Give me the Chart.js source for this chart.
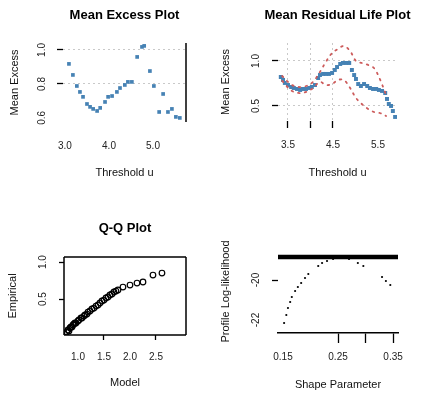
<!DOCTYPE html>
<html>
<head>
<meta charset="utf-8">
<script src="https://cdn.jsdelivr.net/npm/chart.js@4.4.1/dist/chart.umd.min.js"></script>
<style>
  html, body { margin: 0; padding: 0; background: #fff; overflow: hidden; width: 423px; height: 399px; }
  #wrap { position: relative; width: 423px; height: 399px; overflow: hidden; }
  canvas { position: absolute; }
</style>
</head>
<body>
<div id="wrap">
  <canvas id="c1" width="249" height="200" style="left:0px;top:0px"></canvas>
  <canvas id="c2" width="253" height="200" style="left:211px;top:0px"></canvas>
  <canvas id="c3" width="250" height="199" style="left:0px;top:200px"></canvas>
  <canvas id="c4" width="254" height="199" style="left:211px;top:200px"></canvas>
</div>
<script>
// -------------------------
//      DATA
// -------------------------

// mean excess plot
const ME_U   = [3.09, 3.18, 3.27, 3.34, 3.41, 3.50, 3.57, 3.64, 3.73, 3.80, 3.91, 3.98, 4.07, 4.18, 4.25,
                4.36, 4.43, 4.52, 4.64, 4.75, 4.80, 4.93, 5.02, 5.14, 5.23, 5.34, 5.43, 5.52, 5.61];
const ME_VAL = [0.918, 0.853, 0.788, 0.753, 0.724, 0.682, 0.665, 0.653, 0.641, 0.659, 0.694, 0.724, 0.729, 0.753, 0.776,
                0.794, 0.812, 0.812, 0.959, 1.018, 1.024, 0.876, 0.788, 0.635, 0.741, 0.635, 0.653, 0.606, 0.600];
const ME_X_TICKS = [3.0, 4.0, 5.0];
const ME_Y_TICKS = [0.6, 0.8, 1.0];

// mean residual life plot
const MRL_U   = [3.34, 3.39, 3.43, 3.50, 3.57, 3.63, 3.70, 3.77, 3.83, 3.90, 3.97, 4.03, 4.10, 4.17, 4.21,
                 4.28, 4.34, 4.41, 4.48, 4.54, 4.59, 4.66, 4.72, 4.79, 4.86, 4.92, 4.97, 5.01, 5.06, 5.12,
                 5.19, 5.26, 5.32, 5.39, 5.46, 5.52, 5.59, 5.66, 5.70, 5.74, 5.79, 5.83, 5.88];
const MRL_VAL = [0.822, 0.789, 0.756, 0.733, 0.711, 0.700, 0.689, 0.678, 0.689, 0.689, 0.700, 0.711, 0.733, 0.811, 0.844,
                 0.856, 0.856, 0.856, 0.867, 0.900, 0.933, 0.967, 0.978, 0.978, 0.978, 0.900, 0.844, 0.800, 0.744, 0.722,
                 0.744, 0.722, 0.700, 0.689, 0.689, 0.678, 0.667, 0.644, 0.578, 0.522, 0.500, 0.444, 0.378];
const MRL_CI_U  = [3.37, 3.59, 3.81, 4.03, 4.21, 4.34, 4.48, 4.61, 4.74, 4.88, 5.01, 5.14, 5.28, 5.41, 5.54, 5.68];
const MRL_UPPER = [0.833, 0.733, 0.711, 0.756, 0.878, 0.989, 1.089, 1.133, 1.167, 1.111, 1.000, 0.978, 0.956, 0.922, 0.800, 0.622];
const MRL_LOWER = [0.778, 0.667, 0.644, 0.689, 0.767, 0.733, 0.744, 0.789, 0.789, 0.700, 0.589, 0.522, 0.467, 0.433, 0.422, 0.389];
const MRL_X_TICKS = [3.5, 4.0, 4.5, 5.5];
const MRL_Y_TICKS = [0.5, 1.0];

// q-q plot
const QQ_MODEL = [0.788, 0.808, 0.827, 0.846, 0.865, 0.885, 0.904, 0.923, 0.942, 0.962, 1.000, 1.019, 1.058,
                  1.077, 1.115, 1.135, 1.173, 1.192, 1.231, 1.269, 1.308, 1.346, 1.385, 1.423, 1.462, 1.500,
                  1.538, 1.577, 1.615, 1.654, 1.692, 1.731, 1.769, 1.865, 2.000, 2.135, 2.250, 2.442, 2.615];
const QQ_EMP   = [0.054, 0.081, 0.068, 0.108, 0.122, 0.122, 0.149, 0.162, 0.176, 0.176, 0.203, 0.216, 0.243,
                  0.243, 0.270, 0.284, 0.297, 0.324, 0.338, 0.365, 0.378, 0.405, 0.419, 0.446, 0.473, 0.486,
                  0.514, 0.527, 0.554, 0.568, 0.595, 0.608, 0.622, 0.662, 0.689, 0.716, 0.730, 0.824, 0.851];
const QQ_X_TICKS = [1.0, 1.5, 2.0, 2.5];
const QQ_Y_TICKS = [0.5, 1.0];

// profile log-likelihood
const PROF_XI = [0.152, 0.156, 0.159, 0.163, 0.166, 0.172, 0.177, 0.183, 0.190, 0.196,
                 0.214, 0.221, 0.230, 0.241, 0.270, 0.286, 0.296, 0.330, 0.337, 0.345];
const PROF_LL = [-22.15, -21.75, -21.40, -21.10, -20.85, -20.55, -20.35, -20.15, -19.90, -19.70,
                 -19.30, -19.15, -19.05, -18.95, -18.95, -19.15, -19.30, -19.85, -20.05, -20.25];
const PROF_CUT = -18.85;
const PROF_X_TICKS = [0.15, 0.20, 0.25, 0.30, 0.35];
const PROF_Y_TICKS = [-22, -20];

// -------------------------

const FONT = "'Liberation Sans', Arial, Helvetica, sans-serif";
const NONE = 'rgba(0,0,0,0)';

const framePlugin = {
    id: 'frame',
    afterDatasetsDraw(chart, args, opts) {
        const sides = opts.sides || [];
        if (!sides.length) return;
        const { ctx, chartArea: a } = chart;
        ctx.save();
        ctx.strokeStyle = '#000';
        ctx.lineWidth = 1.5;
        ctx.beginPath();
        if (sides.includes('top'))    { ctx.moveTo(a.left, a.top);    ctx.lineTo(a.right, a.top); }
        if (sides.includes('bottom')) { ctx.moveTo(a.left, a.bottom); ctx.lineTo(a.right, a.bottom); }
        if (sides.includes('left'))   { ctx.moveTo(a.left, a.top);    ctx.lineTo(a.left, a.bottom); }
        if (sides.includes('right'))  { ctx.moveTo(a.right, a.top);   ctx.lineTo(a.right, a.bottom); }
        ctx.stroke();
        ctx.restore();
    }
};

function axis(s, horizontal) {
    return {
        type: 'linear',
        position: horizontal ? 'bottom' : 'left',
        min: s.min,
        max: s.max,
        afterBuildTicks: sc => { sc.ticks = s.ticks.map(v => ({ value: v })); },
        afterFit: sc => { if (horizontal) sc.height = s.size; else sc.width = s.size; },
        ticks: {
            autoSkip: false,
            minRotation: horizontal ? 0 : 90,
            maxRotation: horizontal ? 0 : 90,
            crossAlign: horizontal ? 'near' : 'center',
            padding: s.pad,
            color: '#222',
            font: { family: FONT, size: 10 },
            callback: v => s.label ? s.label(v) : v.toFixed(1)
        },
        grid: {
            drawOnChartArea: !!s.grid,
            color: c => (s.grid && c.tick && s.grid.includes(c.tick.value)) ? '#c9c9c9' : NONE,
            lineWidth: 1,
            drawTicks: true,
            tickLength: s.tl,
            tickColor: c => (c.tick && (s.marks || []).includes(c.tick.value)) ? '#000' : NONE,
            tickWidth: 1.3
        },
        border: { display: !!s.line, color: '#000', width: 1.5, dash: [2, 3] },
        title: {
            display: true,
            text: s.title,
            color: '#111',
            font: { family: FONT, size: 11 },
            padding: horizontal ? { top: 0, bottom: s.titleOff } : { top: s.titleOff, bottom: 0 }
        }
    };
}

function buildPanel(id, datasets, cfg) {
    const ctx = document.getElementById(id).getContext('2d');
    return new Chart(ctx, {
        type: 'scatter',
        data: { datasets },
        plugins: [framePlugin],
        options: {
            responsive: false,
            animation: false,
            events: [],
            layout: { padding: { top: cfg.padTop || 0, left: 0, right: 0, bottom: 0 } },
            scales: {
                x: axis(cfg.x, true),
                y: axis(cfg.y, false),
                // empty right axis, same width as the left one, keeps the title centred on the plot
                y2: {
                    position: 'right',
                    afterFit: sc => { sc.width = cfg.y.size; },
                    ticks: { display: false },
                    grid: { display: false },
                    border: { display: false }
                }
            },
            plugins: {
                legend: { display: false },
                tooltip: { enabled: false },
                title: {
                    display: !!cfg.title,
                    text: cfg.title,
                    color: '#000',
                    font: { family: FONT, size: 13, weight: 'bold' },
                    padding: cfg.titlePad || 0
                },
                frame: { sides: cfg.frame || [] }
            }
        }
    });
}

const pts = (xs, ys) => xs.map((x, i) => ({ x, y: ys[i] }));

// -------------------------
//     MEAN EXCESS
// -------------------------

buildPanel('c1', [{
    data: pts(ME_U, ME_VAL),
    yAxisID: 'y',
    pointStyle: 'rect',
    pointRadius: 2.6,
    pointBackgroundColor: '#4682b4',
    pointBorderWidth: 0
}], {
    title: 'Mean Excess Plot',
    titlePad: { top: 7.2, bottom: 20.2 },
    x: { min: 2.955, max: 5.75, ticks: ME_X_TICKS, tl: 6, pad: 12, size: 78, title: 'Threshold u', titleOff: 20.4 },
    y: { min: 0.576, max: 1.041, ticks: ME_Y_TICKS, marks: [0.8, 1.0], grid: [0.8, 1.0],
         tl: 6, pad: 8, size: 63, title: 'Mean Excess', titleOff: 8.4 },
    frame: ['right']
});

// -------------------------
//   MEAN RESIDUAL LIFE
// -------------------------

const bandStyle = {
    type: 'line',
    yAxisID: 'y',
    borderColor: '#cd5c5c',
    borderWidth: 1.8,
    borderDash: [1.6, 5.2],
    borderCapStyle: 'round',
    pointRadius: 0,
    tension: 0.35,
    fill: false
};

buildPanel('c2', [
    { ...bandStyle, data: pts(MRL_CI_U, MRL_UPPER) },
    { ...bandStyle, data: pts(MRL_CI_U, MRL_LOWER) },
    {
        data: pts(MRL_U, MRL_VAL),
        yAxisID: 'y',
        pointStyle: 'rect',
        pointRadius: 2.8,
        pointBackgroundColor: '#4682b4',
        pointBorderWidth: 0
    }
], {
    title: 'Mean Residual Life Plot',
    titlePad: { top: 7.2, bottom: 20.2 },
    x: { min: 3.278, max: 5.922, ticks: MRL_X_TICKS, marks: [3.5, 4.0, 4.5], grid: [3.5, 4.0, 4.5],
         label: v => (v === 4.0 ? '' : v.toFixed(1)),
         tl: 7, pad: 11, size: 79, title: 'Threshold u', titleOff: 20.4 },
    y: { min: 0.333, max: 1.2, ticks: MRL_Y_TICKS, marks: MRL_Y_TICKS, grid: MRL_Y_TICKS,
         tl: 6, pad: 9, size: 67, title: 'Mean Excess', titleOff: 8.4 }
});

// -------------------------
//        Q-Q PLOT
// -------------------------

buildPanel('c3', [{
    data: pts(QQ_MODEL, QQ_EMP),
    yAxisID: 'y',
    pointRadius: 2.8,
    pointBackgroundColor: 'rgba(0,0,0,0)',
    pointBorderColor: '#000',
    pointBorderWidth: 1.2
}], {
    title: 'Q-Q Plot',
    titlePad: { top: 20.2, bottom: 21.2 },
    x: { min: 0.731, max: 3.077, ticks: QQ_X_TICKS, marks: [1.5, 2.5],
         tl: 5, pad: 11, size: 64, title: 'Model', titleOff: 9.4 },
    y: { min: 0.0135, max: 1.068, ticks: QQ_Y_TICKS, marks: QQ_Y_TICKS,
         tl: 5, pad: 9, size: 64, title: 'Empirical', titleOff: 6.4 },
    frame: ['top', 'bottom', 'left', 'right']
});

// -------------------------
//   PROFILE LIKELIHOOD
// -------------------------

const PROF_X_MIN = 0.1409, PROF_X_MAX = 0.359;

buildPanel('c4', [
    {
        type: 'line',
        yAxisID: 'y',
        data: [{ x: PROF_X_MIN, y: PROF_CUT }, { x: PROF_X_MAX, y: PROF_CUT }],
        borderColor: '#000',
        borderWidth: 4.5,
        pointRadius: 0
    },
    {
        data: pts(PROF_XI, PROF_LL),
        yAxisID: 'y',
        pointRadius: 1.1,
        pointBackgroundColor: '#000',
        pointBorderWidth: 0
    }
], {
    padTop: 50,
    x: { min: PROF_X_MIN, max: PROF_X_MAX, ticks: PROF_X_TICKS, marks: [0.25, 0.30, 0.35],
         label: v => ([0.15, 0.25, 0.35].includes(v) ? v.toFixed(2) : ''),
         tl: 10, pad: 8, size: 66, line: true, title: 'Shape Parameter', titleOff: 7.4 },
    y: { min: -22.65, max: -18.5, ticks: PROF_Y_TICKS, marks: [-20],
         label: v => String(v),
         tl: 6, pad: 8.5, size: 67, title: 'Profile Log-likelihood', titleOff: 8.4 }
});
</script>
</body>
</html>
